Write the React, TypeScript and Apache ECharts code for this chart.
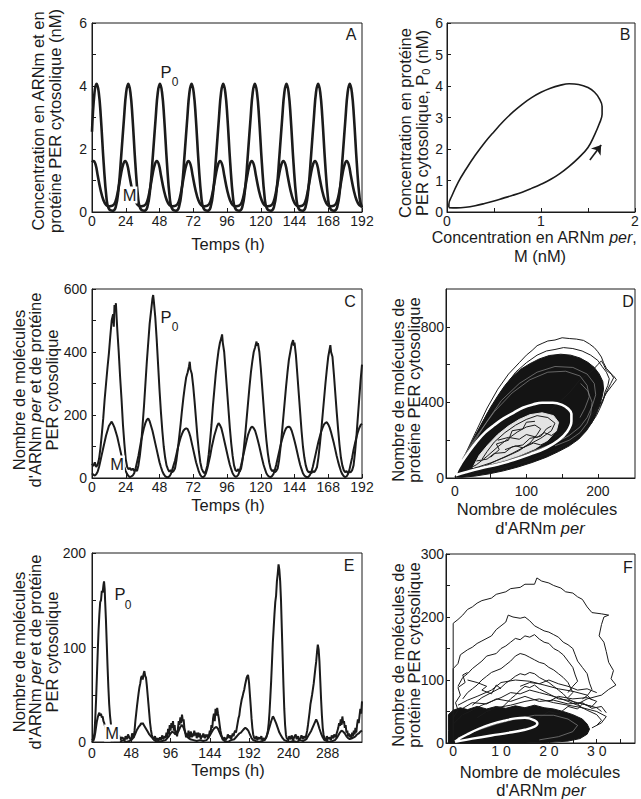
import React, { useEffect, useRef } from 'react';
import * as echarts from 'echarts';

const FONT = '"Liberation Sans", Arial, Helvetica, sans-serif';
const INK = '#1b1b1b';

// ---------- Panel A : deterministic time series (t h, nM)
const A_P0 = [
  [0,2.55],[1.8,3.8],[3.3,4.07],[4.8,3.8],[6.3,3.0],[8.3,1.55],[10.3,0.45],[11.8,0.12],[14.5,0.04],
  [16.8,0.15],[18.8,0.7],[20.8,1.8],[22.8,3.0],[24.3,3.8],[25.8,4.07],[27.3,3.8],[28.8,3.0],[30.8,1.55],[32.8,0.45],[34.3,0.12],[37,0.04],
  [39.3,0.15],[41.3,0.7],[43.3,1.8],[45.3,3.0],[46.8,3.8],[48.3,4.07],[49.8,3.8],[51.3,3.0],[53.3,1.55],[55.3,0.45],[56.8,0.12],[59.5,0.04],
  [61.8,0.15],[63.8,0.7],[65.8,1.8],[67.8,3.0],[69.3,3.8],[70.8,4.07],[72.3,3.8],[73.8,3.0],[75.8,1.55],[77.8,0.45],[79.3,0.12],[82,0.04],
  [84.3,0.15],[86.3,0.7],[88.3,1.8],[90.3,3.0],[91.8,3.8],[93.3,4.07],[94.8,3.8],[96.3,3.0],[98.3,1.55],[100.3,0.45],[101.8,0.12],[104.5,0.04],
  [106.8,0.15],[108.8,0.7],[110.8,1.8],[112.8,3.0],[114.3,3.8],[115.8,4.07],[117.3,3.8],[118.8,3.0],[120.8,1.55],[122.8,0.45],[124.3,0.12],[127,0.04],
  [129.3,0.15],[131.3,0.7],[133.3,1.8],[135.3,3.0],[136.8,3.8],[138.3,4.07],[139.8,3.8],[141.3,3.0],[143.3,1.55],[145.3,0.45],[146.8,0.12],[149.5,0.04],
  [151.8,0.15],[153.8,0.7],[155.8,1.8],[157.8,3.0],[159.3,3.8],[160.8,4.07],[162.3,3.8],[163.8,3.0],[165.8,1.55],[167.8,0.45],[169.3,0.12],[172,0.04],
  [174.3,0.15],[176.3,0.7],[178.3,1.8],[180.3,3.0],[181.8,3.8],[183.3,4.07],[184.8,3.8],[186.3,3.0],[188.3,1.55],[190.3,0.45],[192,0.14],
];
const A_M = [
  [0,1.58],[1.1,1.62],[2.6,1.5],[4.1,1.15],[6.1,0.7],[8.1,0.38],[10.1,0.22],[12.35,0.18],[14.6,0.2],[16.6,0.32],[18.6,0.7],[20.6,1.2],[22.1,1.5],
  [23.6,1.62],[25.1,1.5],[26.6,1.15],[28.6,0.7],[30.6,0.38],[32.6,0.22],[34.85,0.18],[37.1,0.2],[39.1,0.32],[41.1,0.7],[43.1,1.2],[44.6,1.5],
  [46.1,1.62],[47.6,1.5],[49.1,1.15],[51.1,0.7],[53.1,0.38],[55.1,0.22],[57.35,0.18],[59.6,0.2],[61.6,0.32],[63.6,0.7],[65.6,1.2],[67.1,1.5],
  [68.6,1.62],[70.1,1.5],[71.6,1.15],[73.6,0.7],[75.6,0.38],[77.6,0.22],[79.85,0.18],[82.1,0.2],[84.1,0.32],[86.1,0.7],[88.1,1.2],[89.6,1.5],
  [91.1,1.62],[92.6,1.5],[94.1,1.15],[96.1,0.7],[98.1,0.38],[100.1,0.22],[102.35,0.18],[104.6,0.2],[106.6,0.32],[108.6,0.7],[110.6,1.2],[112.1,1.5],
  [113.6,1.62],[115.1,1.5],[116.6,1.15],[118.6,0.7],[120.6,0.38],[122.6,0.22],[124.85,0.18],[127.1,0.2],[129.1,0.32],[131.1,0.7],[133.1,1.2],[134.6,1.5],
  [136.1,1.62],[137.6,1.5],[139.1,1.15],[141.1,0.7],[143.1,0.38],[145.1,0.22],[147.35,0.18],[149.6,0.2],[151.6,0.32],[153.6,0.7],[155.6,1.2],[157.1,1.5],
  [158.6,1.62],[160.1,1.5],[161.6,1.15],[163.6,0.7],[165.6,0.38],[167.6,0.22],[169.85,0.18],[172.1,0.2],[174.1,0.32],[176.1,0.7],[178.1,1.2],[179.6,1.5],
  [181.1,1.62],[182.6,1.5],[184.1,1.15],[186.1,0.7],[188.1,0.38],[190.1,0.22],[192,0.18],
];

// ---------- Panel B : limit cycle (M nM, P0 nM)
const B_LOOP = [
  [0.02,0.14],[0.1,0.13],[0.2,0.15],[0.3,0.2],[0.4,0.27],[0.5,0.35],[0.6,0.44],[0.7,0.53],[0.8,0.63],[0.9,0.75],
  [1.0,0.88],[1.1,1.03],[1.2,1.22],[1.3,1.45],[1.4,1.72],[1.5,2.05],[1.57,2.45],[1.62,2.8],[1.65,3.1],[1.65,3.35],
  [1.62,3.6],[1.57,3.8],[1.5,3.95],[1.4,4.05],[1.3,4.07],[1.2,4.02],[1.1,3.93],[1.0,3.8],[0.9,3.63],[0.8,3.42],
  [0.7,3.17],[0.6,2.88],[0.5,2.55],[0.4,2.2],[0.3,1.8],[0.2,1.35],[0.12,0.95],[0.05,0.5],[0.02,0.25],[0.02,0.14],
];
const B_ARROW = [[1.52,1.65],[1.64,2.13]];

// ---------- Panel C : stochastic time series (molecules)
const C_P0 = [
  [0,45],[1,38],[2,50],[3,35],[4,42],[5,60],[6,95],[7,140],[8,190],[9,250],[10,300],[11,350],[12,395],[13,450],[14,500],[15,520],[15.5,480],[16,549],[16.5,530],[17,555],[17.5,510],[18,470],[19,400],[20,320],[21,250],[22,170],[23,110],[24,60],[25,35],[26,28],[27,32],[28,25],[29,30],[30,22],[31,28],[32,22],
  [33,40],[34,70],[35,110],[36,170],[37,230],[38,300],[39,370],[40,430],[41,490],[42,530],[43,570],[43.5,581],[44,560],[45,510],[46,440],[47,360],[48,280],[49,210],[50,150],[51,100],[52,65],[53,40],[54,28],[55,20],[56,25],[57,18],[58,22],
  [59,30],[60,55],[61,90],[62,130],[63,170],[64,215],[65,255],[66,290],[67,320],[68,335],[69,355],[69.5,369],[70,345],[71,330],[72,290],[73,240],[74,185],[75,130],[76,85],[77,50],[78,30],[79,20],[80,15],
  [81,22],[82,40],[83,75],[84,120],[85,170],[86,230],[87,280],[88,330],[89,370],[90,405],[91,430],[92,445],[92.5,456],[93,430],[94,400],[95,340],[96,280],[97,220],[98,160],[99,110],[100,70],[101,40],[102,25],[103,22],[104,28],[105,20],
  [106,30],[107,55],[108,95],[109,140],[110,190],[111,240],[112,290],[113,335],[114,370],[115,400],[116,415],[117,433],[117.5,420],[118,428],[119,400],[120,350],[121,290],[122,230],[123,170],[124,120],[125,80],[126,50],[127,30],[128,22],[129,25],[130,18],[131,22],
  [132,30],[133,55],[134,95],[135,140],[136,190],[137,240],[138,290],[139,335],[140,375],[141,400],[142,425],[143,438],[143.5,420],[144,430],[145,390],[146,330],[147,270],[148,210],[149,150],[150,100],[151,65],[152,40],[153,25],[154,18],[155,20],[156,15],[157,22],[158,18],
  [159,25],[160,35],[161,65],[162,105],[163,150],[164,200],[165,250],[166,300],[167,345],[168,385],[169,410],[169.5,422],[170,400],[171,385],[172,330],[173,270],[174,210],[175,155],[176,105],[177,65],[178,40],[179,25],[180,18],[181,22],[182,15],[183,20],[184,18],[185,25],
  [186,40],[187,80],[188,130],[189,190],[190,250],[191,310],[192,360],
];
const C_M = [
  [0,15],[1,10],[2,8],[3,12],[4,20],[5,35],[6,55],[7,75],[8,95],[9,115],[10,135],[11,150],[12,165],[13,172],[14,179],[15,170],[16,160],[17,145],[18,130],[19,110],[20,90],[21,70],[22,50],[23,35],[24,22],[25,12],[26,6],[27,3],[28,5],[29,8],
  [30,15],[31,30],[32,50],[33,70],[34,95],[35,120],[36,140],[37,160],[38,175],[39,185],[40,189],[41,180],[42,165],[43,150],[44,130],[45,110],[46,90],[47,70],[48,50],[49,35],[50,22],[51,12],[52,6],[53,3],[54,2],[55,5],
  [56,12],[57,25],[58,40],[59,55],[60,75],[61,95],[62,112],[63,128],[64,140],[65,150],[66,155],[67,158],[68,155],[69,145],[70,130],[71,110],[72,90],[73,70],[74,50],[75,35],[76,20],[77,10],[78,4],[79,3],[80,6],
  [81,15],[82,30],[83,50],[84,70],[85,95],[86,115],[87,135],[88,150],[89,165],[90,174],[91,168],[92,158],[93,140],[94,120],[95,100],[96,80],[97,60],[98,42],[99,28],[100,15],[101,8],[102,4],[103,5],
  [104,10],[105,22],[106,40],[107,60],[108,80],[109,100],[110,120],[111,138],[112,150],[113,160],[114,163],[115,158],[116,150],[117,135],[118,118],[119,100],[120,80],[121,60],[122,42],[123,28],[124,15],[125,8],[126,4],[127,3],[128,6],
  [129,12],[130,25],[131,42],[132,62],[133,82],[134,102],[135,120],[136,135],[137,148],[138,158],[139,162],[140,163],[141,160],[142,150],[143,135],[144,118],[145,100],[146,80],[147,60],[148,42],[149,28],[150,15],[151,8],[152,4],[153,2],[154,4],
  [155,10],[156,20],[157,35],[158,55],[159,75],[160,95],[161,115],[162,132],[163,148],[164,160],[165,170],[166,175],[167,177],[168,170],[169,160],[170,145],[171,128],[172,110],[173,90],[174,70],[175,52],[176,36],[177,22],[178,12],[179,6],[180,3],[181,5],
  [182,12],[183,25],[184,45],[185,65],[186,90],[187,110],[188,128],[189,145],[190,158],[191,168],[192,172],
];

// ---------- Panel D : stochastic phase plane (molecules)
const D_CLOUD = [
  [0,5],[10,80],[20,160],[30,235],[40,305],[50,375],[60,435],[70,490],[80,535],[92,575],[105,605],[118,630],[132,648],[148,655],
  [162,650],[175,635],[186,612],[195,585],[202,550],[207,510],[208,470],[206,430],[203,390],[198,340],[192,295],[184,250],
  [173,205],[160,170],[145,140],[128,110],[108,82],[88,58],[68,38],[48,22],[28,10],[10,4],[0,5],
];
const D_LOOP1 = [
  [2,20],[15,130],[30,250],[45,370],[60,470],[75,550],[90,610],[100,650],[108,675],[115,700],[122,712],[130,725],[140,730],[150,742],
  [160,738],[170,735],[180,728],[188,710],[195,690],[200,668],[205,640],[208,610],[212,580],[218,555],[222,530],[218,500],[214,470],
  [210,440],[207,405],[203,370],[198,330],[190,285],[178,240],[165,200],[150,165],[130,130],[110,100],[85,70],[60,45],[35,25],[15,12],[2,20],
];
const D_LOOP2 = [
  [5,30],[25,200],[45,340],[65,460],[85,560],[100,610],[115,650],[128,672],[140,680],[152,690],[165,685],[178,672],[190,650],[200,622],
  [206,590],[212,560],[216,525],[214,490],[210,455],[208,420],[204,385],[195,340],[185,300],[172,260],[155,220],[135,180],[110,140],[80,95],[50,55],[25,28],[5,30],
];
const D_LOOP3 = [
  [120,300],[140,380],[160,450],[175,520],[190,560],[200,600],[205,620],[208,600],[212,570],[222,540],[226,520],[220,490],[212,450],[205,400],[195,350],[180,300],[160,250],[140,220],
];
const D_TEX1 = [[5,60],[25,180],[45,300],[65,410],[90,500],[115,560],[140,590],[165,585],[185,550],[195,500],[197,440],[192,380],[185,320],[175,270],[160,225],[140,185],[115,150],[90,115],[60,80],[30,45],[10,25]];
const D_TEX2 = [[10,100],[30,220],[55,350],[80,450],[105,520],[130,560],[155,565],[175,540],[185,490],[188,430],[182,370],[175,320]];
const D_TEX3 = [[140,170],[160,200],[175,240],[185,290],[190,340],[192,400],[186,460],[176,500]];
const D_HOLE = [
  [25,55],[45,70],[68,92],[90,120],[112,155],[130,200],[142,250],[145,295],[138,330],[122,345],[105,335],[90,310],[75,275],[60,230],[46,175],[34,120],
];
const D_IN1 = [[10,30],[30,55],[50,80],[70,110],[90,145],[105,185],[115,230],[120,260],[112,280],[100,270],[88,245],[75,210],[60,165],[45,115],[30,70],[15,40]];
const D_IN2 = [[40,60],[60,95],[80,130],[100,170],[120,210],[135,250],[140,290],[130,320],[115,330],[100,310],[85,280],[70,240],[55,190],[45,140],[38,100]];
const D_IN3 = [[60,200],[75,215],[90,205],[100,230],[115,215],[125,240],[135,225],[145,250]];
const D_IN4 = [[70,150],[85,170],[95,160],[110,185],[120,175],[135,200]];
const D_IN5 = [[30,90],[45,100],[55,130],[70,135],[80,165],[95,175],[105,210],[120,220],[128,260],[135,275]];
const D_IN6 = [[50,110],[62,150],[58,180],[75,200],[80,250],[95,260],[100,295],[112,300]];
const D_DET = [
  [1,15],[15,30],[35,50],[60,72],[82,95],[105,125],[128,160],[145,200],[157,245],[163,300],[163,340],[158,368],[150,387],[137,398],
  [122,398],[110,390],[95,372],[82,345],[68,315],[55,280],[42,240],[30,190],[18,130],[9,80],[3,40],[1,15],
];

// ---------- Panel E : stochastic time series, small system
const E_P0 = [
  [0,2],[2,4],[3,10],[4,25],[5,45],[6,70],[7,95],[8,118],[9,135],[10,148],[11,150],[12,160],[13,158],[14,166],[14.7,170],[15.5,162],[16,150],[17,130],[18,105],[19,80],[20,58],[21,40],[22,28],[23,20],[24,12],[25,6],[26,3],[28,5],[29,2],[30,6],[32,3],[33,7],[35,2],[36,5],[38,4],[40,2],[41,6],[43,3],[44,8],[46,4],[48,2],[49,9],[51,5],
  [52,12],[53,22],[54,30],[55,38],[56,45],[57,52],[58,58],[59,62],[60,68],[61,70],[62,66],[63,72],[64,75],[65,70],[66,68],[67,60],[68,50],[69,40],[70,30],[71,20],[72,13],[73,8],[74,5],[75,3],[77,6],[78,2],[80,4],[81,1],[83,5],[84,2],[86,7],[87,3],[89,6],[90,4],
  [91,10],[92,5],[93,14],[94,8],[95,18],[96,12],[97,20],[98,15],[99,22],[100,12],[101,18],[102,8],[103,12],[104,6],[105,14],[106,22],[107,18],[108,26],[109,20],[110,29],[111,22],[112,24],[113,14],[114,10],[115,5],[116,9],[117,6],[118,12],[119,4],[120,8],
  [121,11],[122,5],[123,9],[124,6],[125,12],[126,7],[127,10],[128,4],[129,8],[130,10],[131,5],[132,9],[133,3],[134,7],[135,5],[136,9],[137,6],[138,4],[139,8],[140,5],[141,8],[142,4],[143,7],[144,12],[145,10],[146,18],[147,15],[148,25],[149,30],[150,22],
  [151,35],[152,28],[153,36],[154,30],[155,25],[156,18],[157,12],[158,8],[159,5],[160,2],[162,5],[163,2],[165,4],[166,8],[168,4],[169,7],[170,3],[172,9],[173,6],[174,10],[175,12],[176,10],[177,15],[178,20],[179,25],[180,28],[181,35],[182,40],[183,45],
  [184,48],[185,52],[186,55],[187,60],[188,64],[189,68],[190,70],[190.7,71],[191.5,66],[192,62],[193,50],[194,38],[195,25],[196,15],[197,8],[198,5],[199,3],[201,6],[202,2],[204,5],[205,3],[207,6],[208,2],[210,4],[211,2],[213,5],[214,8],[215,12],
  [216,20],[217,32],[218,48],[219,65],[220,85],[221,105],[222,120],[223,135],[224,148],[225,155],[226,170],[227,178],[228,188],[229,182],[230,170],[231,150],[232,120],[233,90],[234,60],[235,35],[236,18],[237,8],[238,4],[240,2],[241,6],[243,3],[244,7],
  [246,2],[247,5],[249,8],[250,3],[252,6],[253,2],[255,4],[256,7],[258,3],[259,6],[261,4],[262,8],[263,12],[264,18],[265,25],[266,32],[267,40],[268,45],[269,50],[270,56],[271,62],[272,70],[273,78],[274,85],[275,95],[276,103],[277,98],[278,85],[279,65],
  [280,45],[281,28],[282,15],[283,8],[284,4],[286,2],[287,6],[289,3],[290,5],[292,2],[293,7],[295,4],[296,8],[298,5],[299,9],[300,12],[301,15],[302,20],[303,17],[304,24],[305,18],[306,27],[307,20],[308,22],[309,15],[310,18],[311,10],[312,12],[313,6],
  [314,9],[315,5],[316,8],[317,4],[318,10],[319,6],[320,12],[321,8],[322,15],[323,10],[324,18],[325,24],[326,20],[327,28],[328,35],[329,30],[330,43],
];
const E_M = [
  [0,0],[2,2],[3,5],[4,10],[5,16],[6,22],[7,26],[8,29],[9,31],[10,28],[11,30],[12,26],[13,27],[14,22],[15,20],[16,16],[17,13],[18,10],[19,8],[20,6],[21,4],[22,3],[24,1],[26,2],[28,0],[30,1],[34,0],[38,2],[42,0],[46,1],
  [49,3],[51,5],[53,9],[55,13],[57,16],[59,18],[60,20],[61,19],[62,20],[64,17],[66,14],[68,11],[70,8],[72,6],[74,4],[76,2],[78,1],[82,0],[86,1],[90,2],[92,4],[94,6],[96,9],[98,11],[100,10],[102,8],[104,9],[106,12],[108,16],[110,18],
  [112,15],[114,10],[116,6],[118,4],[120,3],[124,2],[128,1],[132,2],[136,1],[140,2],[142,4],[144,7],[146,10],[148,13],[150,15],[152,16],[154,14],[156,10],[158,6],[160,3],[162,1],[166,0],[170,2],[174,3],[176,5],[178,7],[180,9],[182,10],
  [184,12],[186,14],[187.4,15],[189,14],[191,12],[193,8],[195,4],[197,2],[200,1],[204,0],[208,1],[211,2],[213,5],[215,10],[217,16],[219,22],[221,27],[222,26],[223,24],[225,20],[227,15],[229,10],[231,7],[233,4],[235,2],[238,1],[242,0],
  [246,1],[250,0],[254,2],[258,1],[262,3],[264,6],[266,9],[268,12],[270,16],[272,20],[274,24],[275,22],[276,20],[278,14],[280,9],[282,5],[284,2],[287,1],[290,0],[294,1],[297,2],[299,4],[301,7],[303,10],[305,12],[307,11],[309,9],[311,6],
  [313,4],[315,3],[318,4],[320,5],[322,6],[324,8],[326,9],[328,11],[330,12],
];

// ---------- Panel F : stochastic phase plane, small system
const F_CLOUD = [
  [-1,0],[-1,20],[-1,45],[0,52],[1.5,56],[3,53],[5,58],[7,54],[9,58],[11,55],[13,59],[15,56],[17,60],[19,56],[21,54],[23,50],
  [25,45],[27,38],[28,30],[28.5,22],[28,14],[26.5,7],[24,3],[20,1],[15,0],
];
const F_LOOP1 = [
  [0,5],[0,60],[0,120],[0,190],[1,196],[2,203],[3,212],[4,216],[5,222],[6,226],[8,230],[9,236],[11,240],[12,245],[14,247],[15,252],[17,252],
  [17.5,262],[18.5,257],[20,254],[21,250],[22.5,246],[23.5,240],[25,238],[26,232],[27,228],[28,216],[29,207],[31,205],[32.5,203],[31.5,200],
  [31,188],[30.5,170],[31.5,160],[32,145],[32.5,128],[33.5,115],[33,102],[34,92],[32.5,85],[31,76],[28,70],[26,62],
];
const F_LOOP2 = [
  [0,20],[0,80],[0,118],[1,126],[1.5,140],[3,148],[4,152],[5,158],[6,162],[8,170],[9,180],[10,186],[11,192],[11.5,203],[12.5,200],[14,198],
  [15,200],[16,194],[17,186],[18,182],[19,178],[20,176],[21,172],[22,168],[23,160],[24,156],[25,150],[25.5,140],[26,130],[27,120],[28,110],
  [28.5,95],[29,85],[28,75],[27,70],
];
const F_LOOP3 = [
  [1,90],[2,104],[3,110],[4,118],[5,124],[6,130],[7,138],[9,142],[10,150],[11,154],[12,160],[13,166],[14,164],[15,170],[16,168],[17,172],
  [18,165],[19,160],[20,158],[21,150],[22,146],[23,140],[24,130],[25,120],[25.5,108],[26,98],[25,90],[24,80],
];
const F_LOOP4 = [
  [2,70],[3,80],[4,86],[5,92],[6,100],[7,106],[8,112],[10,118],[11,124],[12,130],[13,138],[14,142],[15,140],[16,136],[17,132],[18,128],
  [19,126],[20,120],[21,116],[22,110],[23,104],[24,96],[24.5,88],[25,80],[24,72],
];
const F_LOOP5 = [[4,60],[6,72],[8,80],[10,88],[11,95],[12,100],[13,106],[14,110],[15,108],[16,112],[17,110],[18,104],[19,100],[20,96],[21,90],[22,84],[23,78],[24,70],[26,62],[27,55]];
const F_LOOP6 = [[10,55],[11,62],[12,70],[13,76],[14,84],[15,90],[16,88],[17,92],[18,86],[19,82],[20,78],[21,74],[22,70],[24,68],[26,64],[28,60],[30,56],[31,50]];
const F_LOOP7 = [[0,40],[1,52],[0.5,64],[1.5,76],[1,88],[2.5,96],[2,108],[3,112]];
const F_LOOP8 = [[18,40],[20,50],[22,46],[24,58],[26,54],[27,62],[29,58],[30,66],[28,72],[25,70],[22,74],[20,66]];
const F_LOOP9 = [[3,100],[5,96],[7,90],[6,84],[8,78],[9,92],[10,86]];
const F_LOOP10 = [[0,30],[2,45],[4,52],[6,60],[8,66],[10,72],[12,80],[14,78],[16,84],[18,80],[20,76],[22,72],[24,66],[26,60],[28,52],[30,45],[31,36],[30,28]];
const F_LOOP11 = [[5,40],[7,50],[9,56],[12,60],[15,66],[18,70],[21,64],[24,60],[27,56],[30,50],[32,42],[31,32],[29,24]];
const F_LOOP12 = [[1,60],[3,68],[5,74],[8,84],[10,96],[13,100],[16,98],[19,92],[22,86],[25,82],[28,76],[29,68]];
const F_LOOP13 = [[14,90],[16,96],[18,94],[20,100],[22,94],[24,90],[26,84],[28,86],[30,80]];
const F_LOOP14 = [[2,55],[4,64],[7,62],[9,70],[12,66],[15,74],[18,66],[21,68],[24,62],[27,64],[29,55],[31,58],[32,48]];
const F_TEX1 = [[1,8],[5,20],[9,30],[13,38],[17,44],[21,44],[24,38],[26,28],[25,18],[22,10],[18,5]];
const F_DET = [[0.4,2],[4,7],[8,12],[11.5,16],[15,21],[17,26],[17.6,31],[17,36],[15,40],[13,39],[11,36],[8,30],[5.5,23],[3,14],[1.3,7],[0.4,2]];

// ---------- ticks / labels
const T24 = [0, 24, 48, 72, 96, 120, 144, 168, 192];
const T48 = [0, 48, 96, 144, 192, 240, 288];

function axis(gi: number, min: number, max: number, ticks: number[], labels: number[], margin: number, fmt?: (v: number) => string) {
  return {
    type: 'value', gridIndex: gi, min, max, scale: false,
    axisLine: { show: true, onZero: false, lineStyle: { color: INK, width: 1 } },
    axisTick: { show: true, inside: true, length: 4, customValues: ticks, lineStyle: { color: INK, width: 1 } },
    axisLabel: { show: true, customValues: labels, margin, color: INK, fontFamily: FONT, fontSize: 14, formatter: fmt || ((v: number) => String(v)) },
    splitLine: { show: false },
  };
}

function line(i: number, data: number[][], width: number, color = INK, smooth: any = false, z = 3) {
  return { type: 'line', xAxisIndex: i, yAxisIndex: i, data, symbol: 'none', showSymbol: false, smooth, silent: true, z, lineStyle: { color, width }, clip: true };
}

function poly(i: number, pts: number[][], fill: string, z: number) {
  return {
    type: 'custom', xAxisIndex: i, yAxisIndex: i, data: [[0, 0]], silent: true, z, clip: true,
    renderItem: (_p: any, api: any) => ({
      type: 'polygon',
      shape: { points: pts.map((p) => api.coord(p)) },
      style: { fill, stroke: fill, lineWidth: 1 },
    }),
  };
}

function txt(x: number, y: number, text: string, size: number, extra: any = {}) {
  return {
    type: 'text', x, y, silent: true, z: 50,
    style: { text, fill: INK, font: `${size}px ${FONT}`, fontSize: size, fontFamily: FONT, textAlign: 'center', textVerticalAlign: 'middle', align: 'center', verticalAlign: 'middle', ...extra },
  };
}

function vtxt(x: number, y: number, text: string, size: number, lh: number, rich?: any) {
  return {
    type: 'text', x, y, rotation: Math.PI / 2, silent: true, z: 50,
    style: { text, fill: INK, font: `${size}px ${FONT}`, fontSize: size, fontFamily: FONT, lineHeight: lh, textAlign: 'center', textVerticalAlign: 'middle', align: 'center', verticalAlign: 'middle', rich },
  };
}

const RICH = (size: number, lh: number) => ({
  i: { fontStyle: 'italic', fontSize: size, fontFamily: FONT, lineHeight: lh, fill: INK },
  n: { fontSize: size, fontFamily: FONT, lineHeight: lh, fill: INK },
  s: { fontSize: 11, fontFamily: FONT, lineHeight: lh, fill: INK, padding: [7, 0, 0, 0] },
});

const TS = 16.5;

export default function App() {
  const ref = useRef<HTMLDivElement>(null);
  useEffect(() => {
    const chart = echarts.init(ref.current!, null, { renderer: 'svg' });
    const gridBase = { show: true, borderColor: INK, borderWidth: 1, backgroundColor: '#fff', containLabel: false, outerBoundsMode: 'none' };
    const dl = (d: number[][], w = 1, c = INK, z = 3) => line(3, d, w, c, false, z);
    const fl = (d: number[][], w = 1, c = INK, z = 3) => line(5, d, w, c, false, z);
    const option: any = {
      animation: false,
      backgroundColor: '#fff',
      grid: [
        { ...gridBase, left: 92, top: 23, width: 270, height: 189 },
        { ...gridBase, left: 447, top: 23, width: 188, height: 189 },
        { ...gridBase, left: 92, top: 289, width: 270, height: 189 },
        { ...gridBase, left: 446, top: 289, width: 189, height: 189 },
        { ...gridBase, left: 92, top: 553, width: 270, height: 189 },
        { ...gridBase, left: 446, top: 554, width: 189, height: 189 },
      ],
      xAxis: [
        axis(0, 0, 192, T24, T24, 2),
        axis(1, 0, 2, [0, 0.5, 1, 1.5, 2], [0, 1, 2], 2),
        axis(2, 0, 192, T24, T24, 2),
        axis(3, -12.5, 252, [0, 50, 100, 150, 200], [0, 100, 200], 6),
        axis(4, 0, 330, T48, T48, 4),
        axis(5, -1.5, 38, [0, 5, 10, 15, 20, 25, 30, 35], [0, 10, 20, 30], 1, (v: number) => String(v).split('').join(' ')),
      ],
      yAxis: [
        axis(0, 0, 6, [0, 1, 2, 3, 4, 5, 6], [0, 2, 4, 6], 5),
        axis(1, 0, 6, [0, 1, 2, 3, 4, 5, 6], [0, 1, 2, 3, 4, 5, 6], 4),
        axis(2, 0, 600, [0, 100, 200, 300, 400, 500, 600], [0, 200, 400, 600], 5),
        axis(3, 0, 1000, [0, 200, 400, 600, 800], [0, 400, 800], 2),
        axis(4, 0, 200, [0, 50, 100, 150, 200], [0, 100, 200], 6),
        axis(5, 0, 300, [0, 50, 100, 150, 200, 250, 300], [0, 100, 200, 300], 2),
      ],
      series: [
        line(0, A_P0, 2.6, INK, 0.45),
        line(0, A_M, 2.6, INK, 0.45),
        {
          ...line(1, B_LOOP, 1.6, INK, 0.4),
          markLine: {
            silent: true, symbol: ['none', 'arrow'], symbolSize: 9, animation: false,
            lineStyle: { color: INK, width: 1.6, type: 'solid' }, label: { show: false },
            data: [[{ coord: B_ARROW[0] }, { coord: B_ARROW[1] }]],
          },
        },
        line(2, C_P0, 2),
        line(2, C_M, 2),
        poly(3, D_CLOUD, '#141414', 2),
        dl(D_LOOP1), dl(D_LOOP2), dl(D_LOOP3),
        dl(D_TEX1, 0.7, '#8a8a8a', 3), dl(D_TEX2, 0.7, '#8a8a8a', 3), dl(D_TEX3, 0.7, '#8a8a8a', 3),
        poly(3, D_HOLE, '#e4e4e4', 4),
        dl(D_IN1, 1, INK, 5), dl(D_IN2, 1, INK, 5), dl(D_IN3, 1, INK, 5), dl(D_IN4, 1, INK, 5), dl(D_IN5, 1, INK, 5), dl(D_IN6, 1, INK, 5),
        line(3, D_DET, 2.6, '#ffffff', 0.4, 6),
        line(4, E_P0, 2),
        line(4, E_M, 2),
        poly(5, F_CLOUD, '#141414', 2),
        fl(F_LOOP1), fl(F_LOOP2), fl(F_LOOP3), fl(F_LOOP4), fl(F_LOOP5), fl(F_LOOP6), fl(F_LOOP7),
        fl(F_LOOP8), fl(F_LOOP9), fl(F_LOOP10), fl(F_LOOP11), fl(F_LOOP12), fl(F_LOOP13), fl(F_LOOP14),
        fl(F_TEX1, 0.7, '#8a8a8a', 3),
        line(5, F_DET, 2.4, '#ffffff', 0.4, 6),
      ],
      graphic: [
        // axis titles
        vtxt(46.5, 121, 'Concentration en ARNm et en\nprotéine PER cytosolique (nM)', TS, 17),
        txt(228, 244, 'Temps (h)', TS),
        vtxt(413.5, 123, '{n|Concentration en protéine}\n{n|PER cytosolique, P}{s|0}{n| (nM)}', TS, 17, RICH(TS, 17)),
        txt(534, 237, '{n|Concentration en ARNm }{i|per}{n|,}', 16, { rich: RICH(16, 19) }),
        txt(540, 256, 'M (nM)', TS),
        vtxt(35, 390, '{n|Nombre de molécules}\n{n|d\'ARNm }{i|per}{n| et de protéine}\n{n|PER cytosolique}', TS, 16.5, RICH(TS, 16.5)),
        txt(228, 505, 'Temps (h)', TS),
        vtxt(406, 390, 'Nombre de molécules de\nprotéine PER cytosolique', TS, 16),
        txt(537, 509, 'Nombre de molécules', TS),
        txt(540, 528, '{n|d\'ARNm }{i|per}', TS, { rich: RICH(TS, 19) }),
        vtxt(35, 652, '{n|Nombre de molécules}\n{n|d\'ARNm }{i|per}{n| et de protéine}\n{n|PER cytosolique}', TS, 16.5, RICH(TS, 16.5)),
        txt(228, 770, 'Temps (h)', TS),
        vtxt(405.5, 655, 'Nombre de molécules de\nprotéine PER cytosolique', TS, 16),
        txt(540, 772, 'Nombre de molécules', TS),
        txt(541, 790, '{n|d\'ARNm }{i|per}', TS, { rich: RICH(TS, 19) }),
        // panel letters
        txt(351, 34, 'A', 16),
        txt(625, 34, 'B', 16),
        txt(350, 301, 'C', 16),
        txt(628, 301, 'D', 16),
        txt(349, 565, 'E', 16),
        txt(628, 567, 'F', 16),
        // curve labels
        txt(166, 72, 'P', 16.5),
        txt(175, 82, '0', 12),
        txt(129.5, 195, 'M', 16.5, { backgroundColor: '#fff', padding: [0, 1, 0, 1] }),
        txt(166, 317, 'P', 16.5),
        txt(175, 327, '0', 12),
        txt(117, 464, 'M', 16.5, { backgroundColor: '#fff', padding: [0, 1, 0, 1] }),
        txt(120, 594, 'P', 16.5),
        txt(128, 605, '0', 12),
        txt(112, 733, 'M', 16.5, { backgroundColor: '#fff', padding: [0, 1, 0, 1] }),
      ],
    };
    chart.setOption(option);
    return () => chart.dispose();
  }, []);
  return <div ref={ref} style={{ position: 'fixed', left: 0, top: 0, width: 641, height: 799, background: '#fff' }} />;
}
